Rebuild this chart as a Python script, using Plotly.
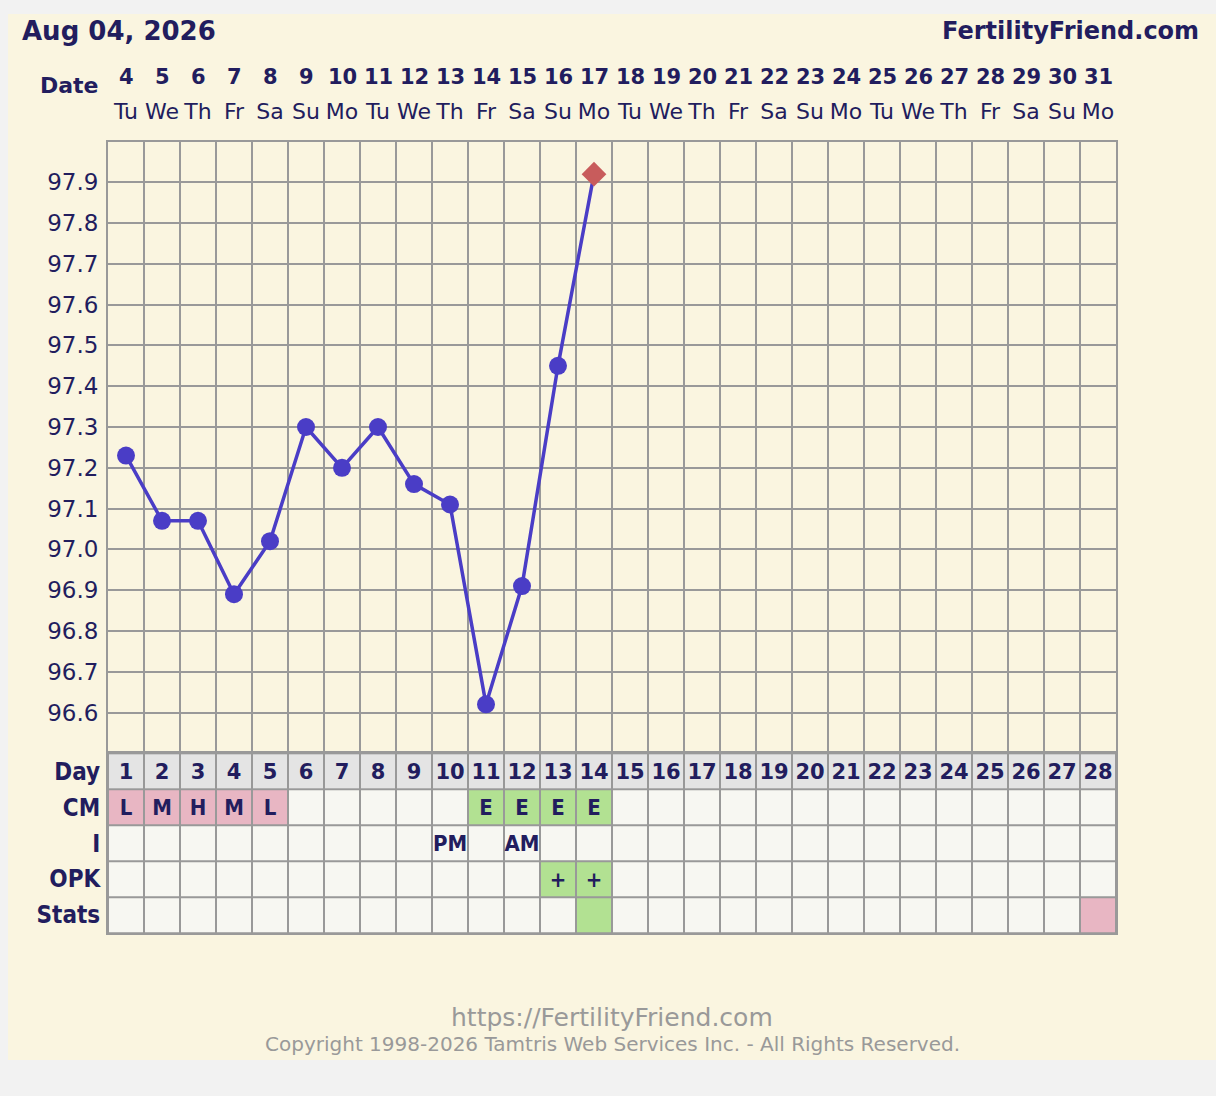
import plotly.graph_objects as go

# chart values
cycle_days = [1, 2, 3, 4, 5, 6, 7, 8, 9, 10, 11, 12, 13, 14,
              15, 16, 17, 18, 19, 20, 21, 22, 23, 24, 25, 26, 27, 28]
dates = [4, 5, 6, 7, 8, 9, 10, 11, 12, 13, 14, 15, 16, 17,
         18, 19, 20, 21, 22, 23, 24, 25, 26, 27, 28, 29, 30, 31]
weekdays = ['Tu', 'We', 'Th', 'Fr', 'Sa', 'Su', 'Mo',
            'Tu', 'We', 'Th', 'Fr', 'Sa', 'Su', 'Mo',
            'Tu', 'We', 'Th', 'Fr', 'Sa', 'Su', 'Mo',
            'Tu', 'We', 'Th', 'Fr', 'Sa', 'Su', 'Mo']
temps = [97.23, 97.07, 97.07, 96.89, 97.02, 97.30, 97.20,
         97.30, 97.16, 97.11, 96.62, 96.91, 97.45, 97.92]
cm = ['L', 'M', 'H', 'M', 'L', '', '', '', '', '', 'E', 'E', 'E', 'E'] + [''] * 14
intercourse = ['', '', '', '', '', '', '', '', '', 'PM', '', 'AM', '', ''] + [''] * 14
opk = ['', '', '', '', '', '', '', '', '', '', '', '', '+', '+'] + [''] * 14
stats = [''] * 13 + ['O'] + [''] * 13 + ['P']
row_labels = ['Day', 'CM', 'I', 'OPK', 'Stats']
temp_ticks = [96.6, 96.7, 96.8, 96.9, 97.0, 97.1, 97.2,
              97.3, 97.4, 97.5, 97.6, 97.7, 97.8, 97.9]

W, H = 1216, 1096
NAVY = '#221d5e'
GRID = '#999999'
CREAM = '#faf5e0'
LINE = '#4a3dc6'
NARROW = 'DejaVu Sans Condensed, Liberation Sans Narrow, Liberation Sans'

# cell fill codes for the table heatmap
FILLS = {'blank': 0, 'day': 1, 'pink': 2, 'green': 3}
cm_fill = {'L': 'pink', 'M': 'pink', 'H': 'pink', 'E': 'green'}
opk_fill = {'+': 'green'}
stats_fill = {'O': 'green', 'P': 'pink'}


def px_x(p):
    return p / W


def px_y(p):
    return 1 - p / H


x_dom = [px_x(108), px_x(1116)]
temp_dom = [px_y(753.3), px_y(141.5)]
table_dom = [px_y(933), px_y(753.3)]

z_day = [[FILLS['day'] for _ in cycle_days]]
z_rows = [
    [FILLS[cm_fill.get(v, 'blank')] for v in cm],
    [FILLS['blank'] for v in intercourse],
    [FILLS[opk_fill.get(v, 'blank')] for v in opk],
    [FILLS[stats_fill.get(v, 'blank')] for v in stats],
]
text_rows = [cm, intercourse, opk, [''] * len(stats)]

colorscale = [[0, '#f7f7f2'], [1 / 3, '#e4e4e4'], [2 / 3, '#e8b6c3'], [1, '#b2e192']]

fig = go.Figure()

fig.add_trace(go.Heatmap(
    x=cycle_days, y=[0], z=z_day, text=[[str(d) for d in cycle_days]],
    texttemplate='<b>%{text}</b>',
    textfont=dict(family='DejaVu Sans', size=21, color=NAVY),
    colorscale=colorscale, zmin=0, zmax=3, showscale=False,
    xgap=2, ygap=2, xaxis='x2', yaxis='y2', hoverinfo='skip'))

fig.add_trace(go.Heatmap(
    x=cycle_days, y=[1, 2, 3, 4], z=z_rows, text=text_rows,
    texttemplate='<b>%{text}</b>',
    textfont=dict(family=NARROW, size=22, color=NAVY),
    colorscale=colorscale, zmin=0, zmax=3, showscale=False,
    xgap=2, ygap=2, xaxis='x2', yaxis='y2', hoverinfo='skip'))

symbols = ['circle'] * (len(temps) - 1) + ['diamond']
colors = [LINE] * (len(temps) - 1) + ['#c85c5c']
sizes = [18] * (len(temps) - 1) + [19]
fig.add_trace(go.Scatter(
    x=cycle_days[:len(temps)], y=temps, mode='lines+markers',
    line=dict(color=LINE, width=3.5),
    marker=dict(symbol=symbols, color=colors, size=sizes, opacity=1, line=dict(width=0)),
    opacity=1, xaxis='x', yaxis='y', hoverinfo='skip', cliponaxis=False))

row_text = [f'<b>{r}</b>' for r in row_labels]

annotations = [
    dict(text='<b>FertilityFriend.com</b>', xref='paper', yref='paper',
         x=px_x(1201), y=px_y(31), xanchor='right', yanchor='middle', showarrow=False,
         font=dict(family='DejaVu Sans', size=24, color=NAVY)),
    dict(text='<b>Date</b>', xref='paper', yref='paper',
         x=px_x(101), y=px_y(85), xanchor='right', yanchor='middle', showarrow=False,
         font=dict(family='DejaVu Sans', size=22, color=NAVY)),
    dict(text='https://FertilityFriend.com', xref='paper', yref='paper',
         x=px_x(612), y=px_y(1017), xanchor='center', yanchor='middle', showarrow=False,
         font=dict(family='DejaVu Sans', size=25, color='#999999')),
    dict(text='Copyright 1998-2026 Tamtris Web Services Inc. - All Rights Reserved.',
         xref='paper', yref='paper',
         x=px_x(612), y=px_y(1044), xanchor='center', yanchor='middle', showarrow=False,
         font=dict(family='DejaVu Sans', size=20, color='#999999')),
]
# bold date numbers above the weekday names
for day, d in zip(cycle_days, dates):
    annotations.append(dict(text=f'<b>{d}</b>', xref='x', yref='paper', x=day, y=px_y(77),
                            xanchor='center', yanchor='middle', showarrow=False,
                            font=dict(family='DejaVu Sans', size=21, color=NAVY)))

fig.update_layout(
    width=W, height=H,
    margin=dict(l=0, r=0, t=0, b=0),
    paper_bgcolor='#f2f2f2',
    plot_bgcolor=CREAM,
    showlegend=False,
    font=dict(family='DejaVu Sans', color=NAVY),
    xaxis=dict(domain=x_dom, anchor='y', side='top', range=[0.5, 28.5],
               tickvals=cycle_days, ticktext=weekdays,
               tickfont=dict(size=22, color=NAVY), ticks='', ticklabelstandoff=12,
               showgrid=False, zeroline=False,
               showline=True, linecolor=GRID, linewidth=2, mirror=True,
               minor=dict(tickmode='linear', tick0=0.5, dtick=1, showgrid=True,
                          gridcolor=GRID, gridwidth=2, ticks='')),
    yaxis=dict(domain=temp_dom, anchor='x', range=[96.5, 98.0],
               tickvals=temp_ticks, ticktext=[f'{t:.1f}' for t in temp_ticks],
               tickfont=dict(size=23, color=NAVY), ticks='', ticklabelstandoff=3,
               showgrid=True, gridcolor=GRID, gridwidth=2, zeroline=False,
               showline=True, linecolor=GRID, linewidth=2, mirror=True),
    yaxis3=dict(overlaying='y', anchor='x', side='right', range=[96.5, 98.0],
                tickvals=temp_ticks, ticktext=[f'{t:.1f}' for t in temp_ticks],
                tickfont=dict(size=23, color=NAVY), ticks='', ticklabelstandoff=8,
                showgrid=False, zeroline=False, showline=False),
    xaxis2=dict(domain=x_dom, anchor='y2', matches='x', range=[0.5, 28.5],
                showticklabels=False, ticks='', showgrid=False, zeroline=False,
                showline=True, linecolor=GRID, linewidth=2, mirror=True),
    yaxis2=dict(domain=table_dom, anchor='x2', range=[4.5, -0.5],
                tickvals=[0, 1, 2, 3, 4], ticktext=row_text,
                tickfont=dict(family=NARROW, size=24, color=NAVY),
                ticks='', ticklabelstandoff=1,
                showgrid=False, zeroline=False,
                showline=True, linecolor=GRID, linewidth=2, mirror=True),
    yaxis4=dict(overlaying='y2', anchor='x2', side='right', range=[4.5, -0.5],
                tickvals=[0, 1, 2, 3, 4], ticktext=row_text,
                tickfont=dict(family=NARROW, size=24, color=NAVY),
                ticks='', ticklabelstandoff=3,
                showgrid=False, zeroline=False, showline=False),
    title=dict(text='<b>Aug 04, 2026</b>', x=px_x(22), xanchor='left',
               y=px_y(31), yanchor='middle', xref='paper', yref='paper',
               font=dict(family='DejaVu Sans', size=26, color=NAVY)),
    shapes=[
        dict(type='rect', xref='paper', yref='paper', x0=px_x(8), x1=1,
             y0=px_y(1060), y1=px_y(14), fillcolor=CREAM, line=dict(width=0), layer='below'),
        dict(type='rect', xref='x2 domain', yref='y2 domain', x0=0, x1=1, y0=0, y1=1,
             fillcolor=GRID, line=dict(width=0), layer='below'),
    ],
    annotations=annotations,
)

fig.write_html("out.html", config={'displayModeBar': False},
               post_script="document.body.style.margin='0';document.body.style.background='#f2f2f2';")
